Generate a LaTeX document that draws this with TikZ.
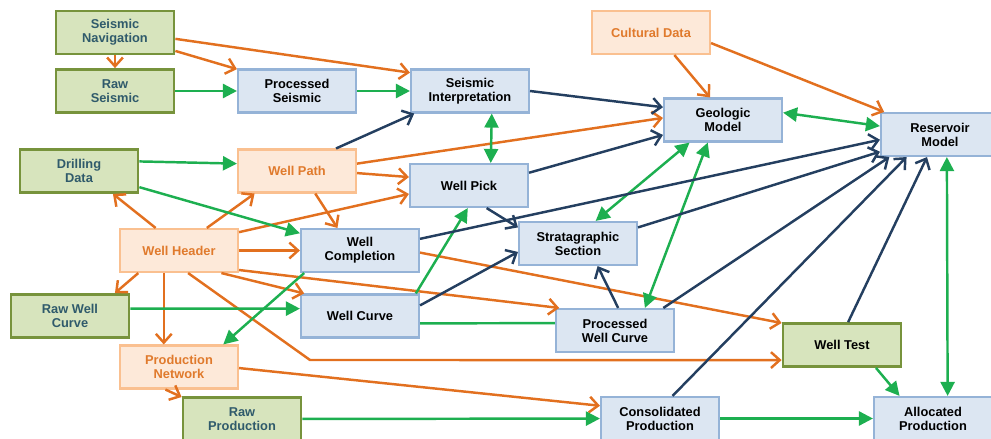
\documentclass[tikz,border=0pt]{standalone}
\usepackage{fontspec}
\setmainfont{Liberation Sans}
\usetikzlibrary{arrows.meta}

\definecolor{gfill}{HTML}{D7E4BD}
\definecolor{gdraw}{HTML}{77933C}
\definecolor{gtext}{HTML}{2F5A6B}
\definecolor{bfill}{HTML}{DCE6F2}
\definecolor{bdraw}{HTML}{95B3D7}
\definecolor{ofill}{HTML}{FDE9D9}
\definecolor{odraw}{HTML}{FAC090}
\definecolor{otext}{HTML}{E07A2C}
\definecolor{orangeln}{HTML}{E2701F}
\definecolor{greenln}{HTML}{1DAF50}
\definecolor{navyln}{HTML}{243F60}

\tikzset{
  box/.style={draw, minimum width=2.36cm, minimum height=0.86cm, align=center,
    inner sep=1pt, font=\fontsize{7.3}{8}\selectfont\bfseries},
  gbox/.style={box, fill=gfill, draw=gdraw, line width=1.6pt, text=gtext},
  bbox/.style={box, fill=bfill, draw=bdraw, line width=1.2pt, text=black},
  obox/.style={box, fill=ofill, draw=odraw, line width=1.2pt, text=otext},
  oarr/.style={draw=orangeln, line width=1.4pt, -{Straight Barb[length=5pt,width=9pt]}},
  narr/.style={draw=navyln, line width=1.4pt, -{Straight Barb[length=5pt,width=9pt]}},
  garr/.style={draw=greenln, line width=1.4pt, -{Triangle[length=8pt,width=8pt]}},
  gboth/.style={draw=greenln, line width=1.4pt, {Triangle[length=8pt,width=8pt]}-{Triangle[length=8pt,width=8pt]}},
  glink/.style={draw=greenln, line width=1.4pt}
}

\begin{document}
\begin{tikzpicture}[x=0.02cm, y=-0.02cm]
  \useasboundingbox (0,0) rectangle (991,439);

  % data boxes
  \node[gbox] (snav) at (115,32.5) {Seismic\\Navigation};
  \node[gbox] (rseis) at (115,91) {Raw\\Seismic};
  \node[bbox] (pseis) at (297,91) {Processed\\Seismic};
  \node[bbox] (sinterp) at (470,91) {Seismic\\Interpretation};
  \node[obox] (cult) at (651,32.5) {Cultural Data};
  \node[bbox] (geo) at (723,120) {Geologic\\Model};
  \node[bbox] (res) at (940,134.5) {Reservoir\\Model};
  \node[gbox] (drill) at (79,171) {Drilling\\Data};
  \node[obox] (wpath) at (297,171) {Well Path};
  \node[bbox] (wpick) at (469,185.5) {Well Pick};
  \node[obox] (whead) at (179,250.5) {Well Header};
  \node[bbox] (wcomp) at (360,250.5) {Well\\Completion};
  \node[bbox] (strat) at (578,243.5) {Stratagraphic\\Section};
  \node[gbox] (rwc) at (70,316) {Raw Well\\Curve};
  \node[bbox] (wcurve) at (360,316) {Well Curve};
  \node[bbox] (pwc) at (615,330.5) {Processed\\Well Curve};
  \node[gbox, text=black] (wtest) at (842,345) {Well Test};
  \node[obox] (pnet) at (179,367) {Production\\Network};
  \node[gbox] (rprod) at (242,419) {Raw\\Production};
  \node[bbox] (cprod) at (660,418.5) {Consolidated\\Production};
  \node[bbox] (aprod) at (933,418.5) {Allocated\\Production};
  \coordinate (bend) at (310,360);

  % orange links
  \draw[oarr] (snav.-6) -- (sinterp.163);
  \draw[oarr] (snav.-17) -- (pseis.160);
  \draw[oarr] (snav) -- (rseis);
  \draw[oarr] (cult.-44) -- (geo.120);
  \draw[oarr] (cult.-10) -- (res.158);
  \draw[oarr] (wpath.7) -- (geo.178);
  \draw[oarr] (wpath.-2) -- (wpick.172);
  \draw[oarr] (wpath.-51) -- (wcomp.135);
  \draw[oarr] (whead.136) -- (drill.-34);
  \draw[oarr] (whead.39) -- (wpath.-152);
  \draw[oarr] (whead.17) -- (wpick.-172);
  \draw[oarr] (whead) -- (wcomp);
  \draw[oarr] (whead.-151) -- (rwc.27);
  \draw[oarr] (whead.-124) -- (pnet.124);
  \draw[oarr] (whead.-28) -- (wcurve.158);
  \draw[oarr] (whead.-18) -- (pwc.158);
  \draw[oarr] (whead.-68) -- (bend) -- (wtest.-166);
  \draw[oarr] (wcomp.-2) -- (wtest.160);
  \draw[oarr] (pnet.-1) -- (cprod.168);
  \draw[oarr] (pnet.-121) -- (rprod.160);

  % green links
  \draw[garr] (rseis) -- (pseis);
  \draw[garr] (pseis) -- (sinterp);
  \draw[gboth] (sinterp.-46) -- (wpick.46);
  \draw[garr] (drill.9) -- (wpath.173);
  \draw[garr] (drill.-15) -- (wcomp.164);
  \draw[garr] (wcomp.-158) -- (pnet.27);
  \draw[garr] (rwc.7) -- (wcurve.173);
  \draw[garr] (wcurve.22) -- (wpick.-93);
  \draw[glink] (wcurve.-7) -- (pwc.173);
  \draw[gboth] (geo.-146) -- (strat.52);
  \draw[gboth] (geo.-124) -- (pwc.37);
  \draw[gboth] (geo.7) -- (res.172);
  \draw[gboth] (res.-73) -- (aprod.57);
  \draw[garr] (wtest.-34) -- (aprod.146);
  \draw[garr] (rprod) -- (cprod);
  \draw[garr] (cprod) -- (aprod);

  % navy links
  \draw[narr] (sinterp.0) -- (geo.168);
  \draw[narr] (wpath.30) -- (sinterp.-158);
  \draw[narr] (wpick.12) -- (geo.-166);
  \draw[narr] (wpick.-52) -- (strat.165);
  \draw[narr] (wcomp.11) -- (res.-175);
  \draw[narr] (wcurve.10) -- (strat.-172);
  \draw[narr] (strat.15) -- (res.-164);
  \draw[narr] (pwc.82) -- (strat.-49);
  \draw[narr] (pwc.25) -- (res.-156);
  \draw[narr] (cprod.61) -- (res.-146);
  \draw[narr] (wtest.75) -- (res.-120);
\end{tikzpicture}
\end{document}
